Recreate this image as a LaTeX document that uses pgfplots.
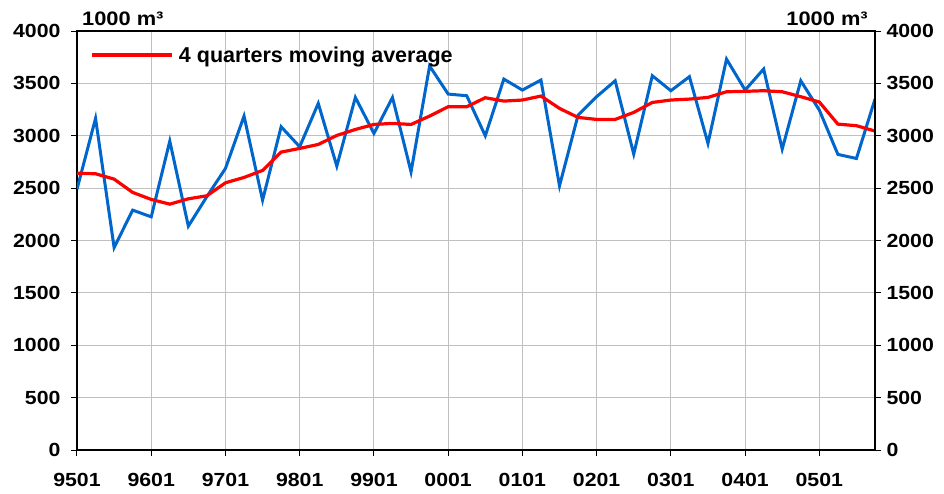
\documentclass[border=0pt]{standalone}
\usepackage{pgfplots}
\pgfplotsset{compat=1.18}
\usepackage{fontspec}
\setmainfont{Liberation Sans}
\newfontfamily\tickfont{Liberation Sans}[FakeStretch=1.12]
\definecolor{blueline}{RGB}{0,102,204}
\definecolor{gridgray}{RGB}{192,192,192}
\begin{document}
\begin{tikzpicture}
\begin{axis}[name=ax,
  at={(0,0)}, anchor=south west,
  scale only axis, width=798pt, height=419pt,
  xmin=0, xmax=43, ymin=0, ymax=4000,
  xtick={0,4,...,40},
  xticklabels={9501,9601,9701,9801,9901,0001,0101,0201,0301,0401,0501},
  ytick={0,500,...,4000},
  xtick pos=bottom, ytick pos=left,
  tick align=outside, major tick length=6pt,
  tick style={black, line width=1pt},
  grid=major, major grid style={gridgray, line width=1pt},
  axis line style={black, line width=1.2pt},
  /pgf/number format/assume math mode=true,
  /pgf/number format/1000 sep={},
  ticklabel style={font=\tickfont\fontsize{19}{19}\selectfont\bfseries},
  yticklabel style={xshift=-7pt},
  xticklabel style={yshift=-14pt},
  legend style={at={(axis description cs:0,1)}, anchor=west, xshift=13pt, yshift=-24pt,
    draw=none, fill=none, inner sep=0pt, font=\fontsize{21.5}{21.5}\selectfont\bfseries},
  legend image code/.code={\draw[#1] (0pt,0pt) -- (80pt,0pt);},
  legend cell align=left,
]
\addplot[blueline, line width=3pt, forget plot] coordinates {
(0,2490) (1,3166) (2,1933) (3,2290) (4,2226) (5,2949) (6,2137) (7,2420)
(8,2688) (9,3188) (10,2385) (11,3086) (12,2895) (13,3309) (14,2710) (15,3366)
(16,3022) (17,3366) (18,2656) (19,3666) (20,3398) (21,3382) (22,3000) (23,3541)
(24,3436) (25,3532) (26,2522) (27,3197) (28,3373) (29,3525) (30,2825) (31,3573)
(32,3430) (33,3564) (34,2927) (35,3732) (36,3436) (37,3637) (38,2873) (39,3525)
(40,3245) (41,2822) (42,2783) (43,3350)
};
\addplot[red, line width=3.2pt] coordinates {
(0,2643) (1,2637) (2,2586) (3,2459) (4,2392) (5,2347) (6,2398) (7,2427)
(8,2551) (9,2602) (10,2669) (11,2844) (12,2879) (13,2917) (14,3003) (15,3060)
(16,3108) (17,3118) (18,3108) (19,3188) (20,3277) (21,3277) (22,3363) (23,3331)
(24,3341) (25,3379) (26,3261) (27,3175) (28,3156) (29,3156) (30,3223) (31,3318)
(32,3341) (33,3350) (34,3366) (35,3420) (36,3424) (37,3430) (38,3420) (39,3373)
(40,3322) (41,3111) (42,3096) (43,3045)
};
\addlegendentry{\,4 quarters moving average}
\end{axis}
\begin{axis}[
  at={(0,0)}, anchor=south west,
  scale only axis, width=798pt, height=419pt,
  xmin=0, xmax=43, ymin=0, ymax=4000,
  axis x line=none, axis y line*=right,
  ytick={0,500,...,4000},
  tick align=outside, major tick length=6pt,
  tick style={black, line width=1pt},
  axis line style={black, line width=1.2pt},
  /pgf/number format/assume math mode=true,
  /pgf/number format/1000 sep={},
  ticklabel style={font=\tickfont\fontsize{19}{19}\selectfont\bfseries},
  yticklabel style={xshift=2pt},
]
\addplot[draw=none, forget plot] coordinates {(0,0)};
\end{axis}
\node[anchor=base west, font=\tickfont\fontsize{19.5}{19.5}\selectfont\bfseries, inner sep=0pt] at ([xshift=5pt,yshift=6pt]ax.north west) {1000 m³};
\node[anchor=base east, font=\tickfont\fontsize{19.5}{19.5}\selectfont\bfseries, inner sep=0pt] at ([xshift=-7pt,yshift=6pt]ax.north east) {1000 m³};
\path (-77pt,-43pt) rectangle (867pt,450pt);
\end{tikzpicture}
\end{document}
